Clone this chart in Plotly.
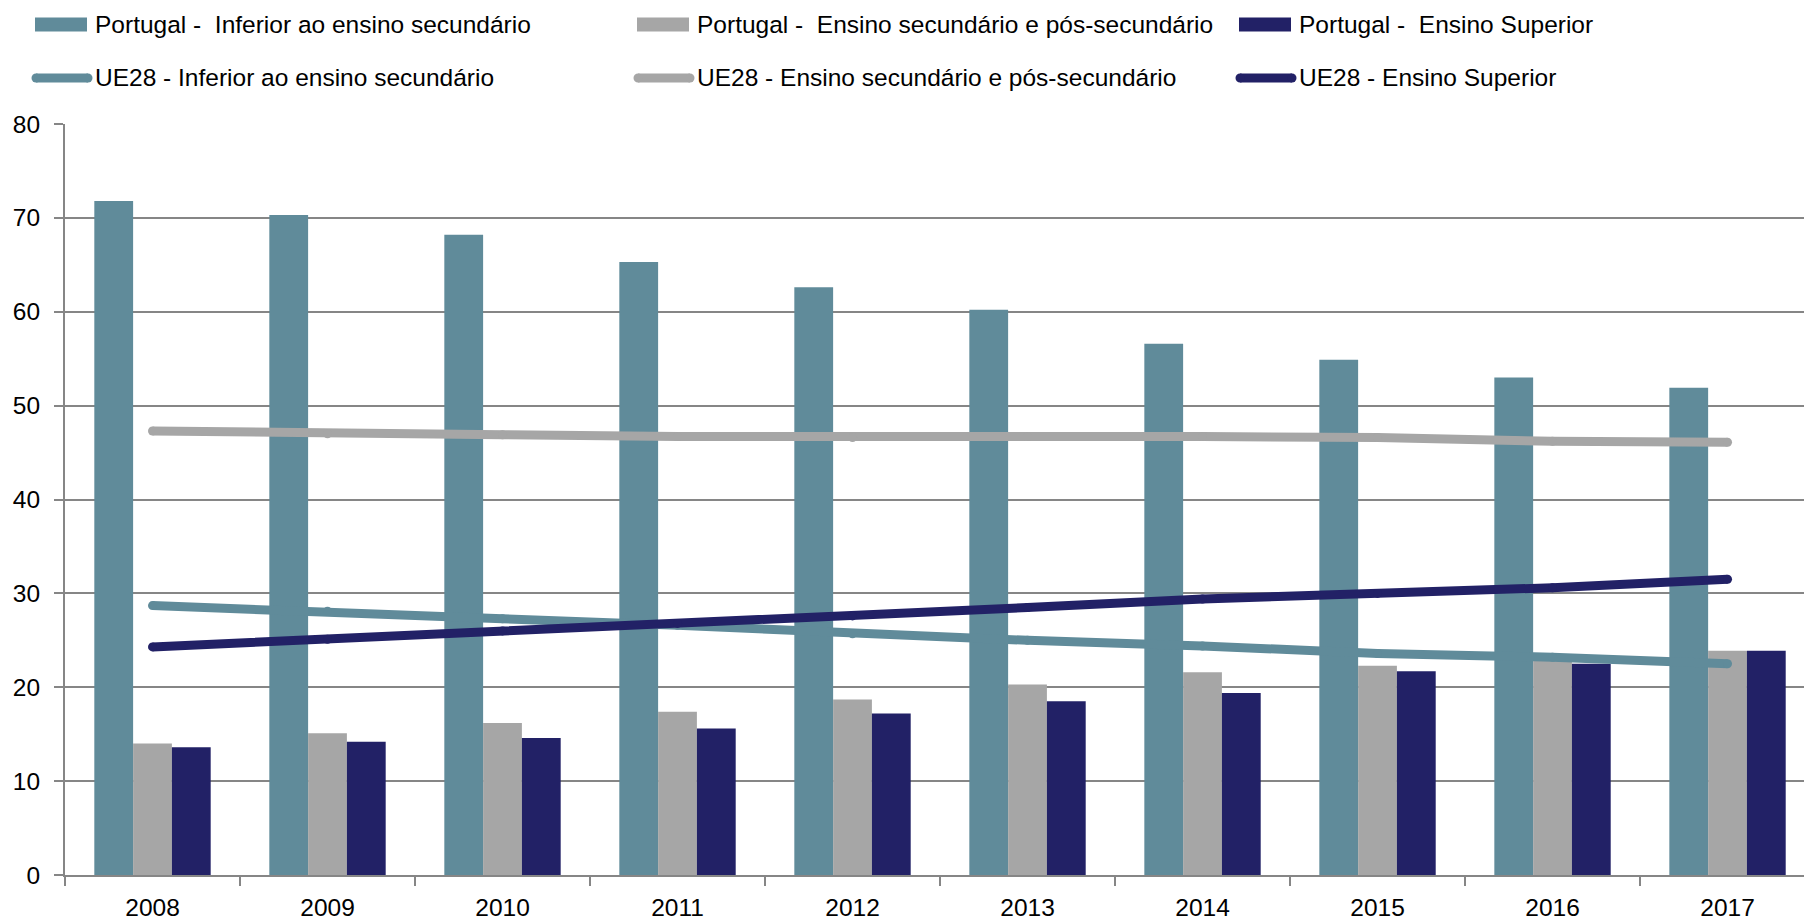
import plotly.graph_objects as go

years = ["2008", "2009", "2010", "2011", "2012", "2013", "2014", "2015", "2016", "2017"]

pt_inferior = [71.8, 70.3, 68.2, 65.3, 62.6, 60.2, 56.6, 54.9, 53.0, 51.9]
pt_secundario = [14.0, 15.1, 16.2, 17.4, 18.7, 20.3, 21.6, 22.3, 23.0, 23.9]
pt_superior = [13.6, 14.2, 14.6, 15.6, 17.2, 18.5, 19.4, 21.7, 22.5, 23.9]

ue_inferior = [28.7, 28.1, 27.3, 26.6, 25.7, 25.0, 24.4, 23.6, 23.2, 22.5]
ue_secundario = [47.3, 47.0, 46.9, 46.7, 46.6, 46.7, 46.7, 46.6, 46.2, 46.1]
ue_superior = [24.3, 25.1, 26.0, 26.8, 27.6, 28.5, 29.4, 30.0, 30.6, 31.5]

names_bar = ["Portugal - \u00a0Inferior ao ensino secundário",
             "Portugal - \u00a0Ensino secundário e pós-secundário",
             "Portugal - \u00a0Ensino Superior"]
names_line = ["UE28 - Inferior ao ensino secundário",
              "UE28 - Ensino secundário e pós-secundário",
              "UE28 - Ensino Superior"]

TEAL = "rgb(96,139,154)"
GRAY = "rgb(166,166,166)"
NAVY = "rgb(34,33,102)"
colors = [TEAL, GRAY, NAVY]

FONT = "Liberation Sans, Arial, sans-serif"
FS = 24.5
W, H = 1804, 923
ML, MR, MT, MB = 65, 0, 124, 48
PW = W - ML - MR
PH = H - MT - MB

fig = go.Figure()
for vals, name, c in zip([pt_inferior, pt_secundario, pt_superior], names_bar, colors):
    fig.add_trace(go.Bar(x=years, y=vals, name=name, marker=dict(color=c, line=dict(width=0)),
                         showlegend=False))
for vals, name, c in zip([ue_inferior, ue_secundario, ue_superior], names_line, colors):
    fig.add_trace(go.Scatter(x=years, y=vals, name=name, mode="lines+markers",
                             line=dict(color=c, width=9),
                             marker=dict(color=c, size=9, line=dict(width=0)),
                             showlegend=False))

# manual legend
def px(x):
    return (x - ML) / PW

def py(y):
    return 1 - (y - MT) / PH

shapes = []
annotations = []
col_x = [(35, 87, 93), (637, 689, 695), (1239, 1291, 1297)]
for i in range(3):
    x0, x1, tx = col_x[i]
    shapes.append(dict(type="rect", xref="paper", yref="paper",
                       x0=px(x0), x1=px(x1), y0=py(31.5), y1=py(17.5),
                       fillcolor=colors[i], line=dict(width=0)))
    annotations.append(dict(text=names_bar[i], xref="paper", yref="paper",
                            x=px(tx), y=py(24), xanchor="left", yanchor="middle",
                            showarrow=False, font=dict(family=FONT, size=FS, color="black")))
    lx0, lx1 = x0 + 1, x1 + 1
    shapes.append(dict(type="line", xref="paper", yref="paper",
                       x0=px(lx0), x1=px(lx1), y0=py(78), y1=py(78),
                       line=dict(color=colors[i], width=9)))
    for cx in (lx0, lx1):
        shapes.append(dict(type="circle", xref="paper", yref="paper",
                           xsizemode="pixel", ysizemode="pixel",
                           xanchor=px(cx), yanchor=py(78),
                           x0=-4.5, x1=4.5, y0=-4.5, y1=4.5,
                           fillcolor=colors[i], line=dict(width=0)))
    annotations.append(dict(text=names_line[i], xref="paper", yref="paper",
                            x=px(tx), y=py(78), xanchor="left", yanchor="middle",
                            showarrow=False, font=dict(family=FONT, size=FS, color="black")))

AX = "rgb(134,134,134)"
fig.update_layout(
    width=W, height=H,
    margin=dict(l=ML, r=MR, t=MT, b=MB, pad=0),
    paper_bgcolor="white", plot_bgcolor="white",
    barmode="group", bargap=0.335, bargroupgap=0,
    shapes=shapes, annotations=annotations,
    showlegend=False,
    font=dict(family=FONT, size=FS, color="black"),
    xaxis=dict(type="category", range=[-0.5, 9.437], showgrid=False,
               showline=True, linecolor=AX, linewidth=2,
               ticks="outside", tickson="boundaries", ticklen=9, tickwidth=2, tickcolor=AX,
               tickfont=dict(family=FONT, size=FS, color="black"), ticklabelstandoff=10,
               fixedrange=True),
    yaxis=dict(range=[0, 80], dtick=10, showgrid=True, gridcolor=AX, gridwidth=1.5,
               showline=True, linecolor=AX, linewidth=2, zeroline=False,
               ticks="outside", ticklen=9, tickwidth=2, tickcolor=AX,
               tickfont=dict(family=FONT, size=FS, color="black"), ticklabelstandoff=9,
               fixedrange=True),
)

fig.write_html("out.html", config={"displayModeBar": False},
               post_script="document.body.style.margin='0';document.body.style.overflow='hidden';")
